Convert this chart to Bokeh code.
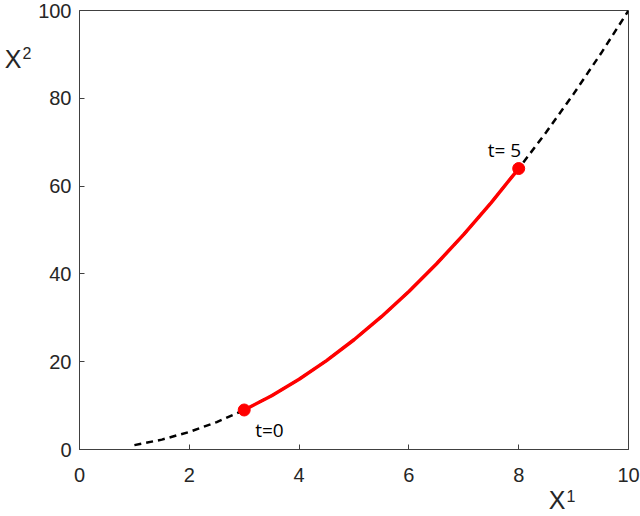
from bokeh.plotting import figure
from bokeh.models import Label, Range1d, FixedTicker, LinearAxis
from bokeh.embed import file_html
from bokeh.resources import INLINE

# curve
curve_x = [1, 1.5, 2, 2.5, 3, 3.5, 4, 4.5, 5, 5.5, 6, 6.5, 7, 7.5, 8, 8.5, 9, 9.5, 10]
curve_y = [1, 2.25, 4, 6.25, 9, 12.25, 16, 20.25, 25, 30.25, 36, 42.25, 49, 56.25, 64, 72.25, 81, 90.25, 100]
path_x = [3, 3.5, 4, 4.5, 5, 5.5, 6, 6.5, 7, 7.5, 8]
path_y = [9, 12.25, 16, 20.25, 25, 30.25, 36, 42.25, 49, 56.25, 64]
end_x = [3, 8]
end_y = [9, 64]
end_labels = ["t=0", "t= 5"]
x_ticks = [0, 2, 4, 6, 8, 10]
y_ticks = [0, 20, 40, 60, 80, 100]
x_name, x_sup = "X", "1"
y_name, y_sup = "X", "2"

p = figure(width=640, height=516, output_backend="svg", toolbar_location=None,
           x_range=Range1d(0, 10), y_range=Range1d(0, 100),
           min_border_left=79, min_border_right=12, min_border_top=10, min_border_bottom=64)
p.grid.visible = False
p.outline_line_color = "#404040"
p.outline_line_width = 1
p.background_fill_color = "white"
p.border_fill_color = "white"

for ax in (p.xaxis[0], p.yaxis[0]):
    ax.axis_line_color = "#404040"
    ax.major_tick_line_color = "#404040"
    ax.major_tick_in = 5
    ax.major_tick_out = 0
    ax.minor_tick_line_color = None
    ax.major_label_text_font = "Liberation Sans"
    ax.major_label_text_font_size = "20px"
    ax.major_label_text_color = "#262626"
p.xaxis[0].ticker = FixedTicker(ticks=x_ticks)
p.yaxis[0].ticker = FixedTicker(ticks=y_ticks)
p.xaxis[0].major_label_standoff = 18
p.yaxis[0].major_label_standoff = 8


def name_axis(pos, text, size, standoff):
    return LinearAxis(ticker=FixedTicker(ticks=[pos]), major_label_overrides={pos: text},
                      axis_line_color=None, major_tick_line_color=None, minor_tick_line_color=None,
                      major_tick_in=0, major_tick_out=0, major_label_standoff=standoff,
                      major_label_text_font="Liberation Sans", major_label_text_font_size=size,
                      major_label_text_color="#262626")


# axis names: letter and superscript as stacked single-tick axes
p.add_layout(name_axis(8.70, x_name, "25px", 1), "below")
p.add_layout(name_axis(8.95, x_sup, "16px", -27), "below")
p.add_layout(name_axis(90.3, y_sup, "16px", 4), "left")
p.add_layout(name_axis(88.9, y_name, "25px", -2), "left")

p.line(curve_x, curve_y, line_color="black", line_width=2.5, line_dash="7 5")
p.line(path_x, path_y, line_color="red", line_width=3.5)
p.scatter(end_x, end_y, size=12, color="red")

p.add_layout(Label(x=end_x[0], y=end_y[0], text=end_labels[0], x_offset=11, y_offset=-20,
                   text_baseline="alphabetic", text_font="Open Sans", text_font_size="19px",
                   text_color="black"))
p.add_layout(Label(x=end_x[1], y=end_y[1], text=end_labels[1], x_offset=-31, y_offset=19,
                   text_baseline="alphabetic", text_font="Open Sans", text_font_size="19px",
                   text_color="black"))

open("out.html", "w").write(file_html(p, INLINE))
